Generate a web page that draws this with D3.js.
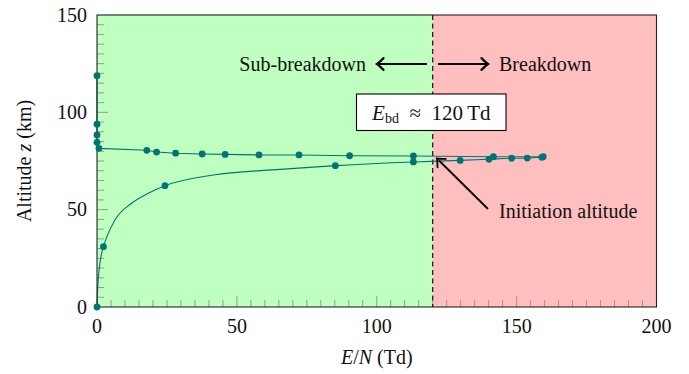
<!DOCTYPE html>
<html>
<head>
<meta charset="utf-8">
<script src="https://cdn.jsdelivr.net/npm/d3@7"></script>
<style>
  html, body { margin: 0; padding: 0; background: #fff; }
  svg text { font-family: "Liberation Serif", "DejaVu Serif", serif; fill: #111; }
</style>
</head>
<body>
<svg id="chart" width="689" height="374"></svg>
<script>
// Reduced field E/N (Td) versus altitude z (km)
const xTicks = [0, 50, 100, 150, 200];
const yTicks = [0, 50, 100, 150];
const breakdownField = 120;

// upper profile: markers joined by straight segments
const upperField = [0, 0, 0, 0, 0.7, 17.8, 21.3, 28.1, 37.6, 45.8, 57.9, 72.2, 90.3, 113.1, 141.7, 159.5];
const upperAlt   = [118.8, 93.9, 88.4, 84.6, 81.5, 80.5, 79.6, 79.0, 78.6, 78.4, 78.1, 78.1, 77.7, 77.6, 77.2, 77.2];

// lower profile: markers
const lowerField = [0, 2.3, 24.3, 85.2, 113.1, 129.8, 140.1, 148.2, 153.8, 159.0];
const lowerAlt   = [0, 31.0, 62.3, 72.6, 74.5, 75.3, 75.9, 76.4, 76.5, 76.9];

// lower profile: smooth curve vertices
const curveField = [0, 0.2, 0.5, 1.2, 2.3, 3.5, 6.4, 12.4, 18.3, 24.3, 41.6, 65.4, 85.2, 113.1, 129.8, 140.1, 148.2, 153.8, 159.0];
const curveAlt   = [0, 8, 15, 24, 31.0, 36.0, 44.7, 53.3, 58.4, 62.3, 67.8, 70.7, 72.6, 74.5, 75.3, 75.9, 76.4, 76.5, 76.9];

const teal = "#007474";
const svg = d3.select("#chart");
const L = 97, R = 656.5, T = 15, B = 307;
const x = d3.scaleLinear().domain([0, 200]).range([L, R]);
const y = d3.scaleLinear().domain([0, 150]).range([B, T]);

// shaded regimes
svg.append("rect").attr("x", x(0)).attr("y", T).attr("width", x(breakdownField) - x(0)).attr("height", B - T).attr("fill", "#bfffbf");
svg.append("rect").attr("x", x(breakdownField)).attr("y", T).attr("width", x(200) - x(breakdownField)).attr("height", B - T).attr("fill", "#ffbfbf");

// inner minor/major ticks
const tickG = svg.append("g").attr("stroke", "#9a9a9a").attr("stroke-width", 1);
d3.range(5, 200, 5).forEach(v => {
  const len = v % 50 === 0 ? 11 : 7;
  tickG.append("line").attr("x1", x(v)).attr("x2", x(v)).attr("y1", B).attr("y2", B - len);
});
d3.range(5, 150, 5).forEach(v => {
  const len = v % 50 === 0 ? 11 : 7;
  tickG.append("line").attr("y1", y(v)).attr("y2", y(v)).attr("x1", L).attr("x2", L + len);
});

// breakdown threshold
svg.append("line").attr("x1", x(breakdownField)).attr("x2", x(breakdownField)).attr("y1", T).attr("y2", B)
  .attr("stroke", "#111").attr("stroke-width", 1.2).attr("stroke-dasharray", "5,3.5");

// curves
svg.append("path").datum(d3.zip(curveField, curveAlt))
  .attr("d", d3.line().x(d => x(d[0])).y(d => y(d[1])).curve(d3.curveMonotoneX))
  .attr("fill", "none").attr("stroke", teal).attr("stroke-width", 1.1);
svg.append("path").datum(d3.zip(upperField, upperAlt))
  .attr("d", d3.line().x(d => x(d[0])).y(d => y(d[1])))
  .attr("fill", "none").attr("stroke", teal).attr("stroke-width", 1.1);

// frame
svg.append("rect").attr("x", L).attr("y", T).attr("width", R - L).attr("height", B - T)
  .attr("fill", "none").attr("stroke", "#222").attr("stroke-width", 1.1);

// markers
const dots = d3.zip(upperField, upperAlt).concat(d3.zip(lowerField, lowerAlt));
svg.append("g").selectAll("circle").data(dots).join("circle")
  .attr("cx", d => x(d[0])).attr("cy", d => y(d[1])).attr("r", 3.4).attr("fill", teal);

// axes labels
const fs = 20;
svg.append("g").selectAll("text").data(xTicks).join("text")
  .attr("x", d => x(d)).attr("y", B + 26).attr("text-anchor", "middle").attr("font-size", fs).text(d => d);
svg.append("g").selectAll("text").data(yTicks).join("text")
  .attr("x", L - 10).attr("y", d => y(d) + 6.5).attr("text-anchor", "end").attr("font-size", fs).text(d => d);

const xl = svg.append("text").attr("x", (L + R) / 2).attr("y", 364).attr("text-anchor", "middle").attr("font-size", fs);
xl.append("tspan").attr("font-style", "italic").text("E");
xl.append("tspan").text("/");
xl.append("tspan").attr("font-style", "italic").text("N");
xl.append("tspan").text(" (Td)");

const yl = svg.append("text").attr("transform", `translate(31,${(T + B) / 2}) rotate(-90)`).attr("text-anchor", "middle").attr("font-size", fs);
yl.append("tspan").text("Altitude ");
yl.append("tspan").attr("font-style", "italic").text("z");
yl.append("tspan").text(" (km)");

// regime annotations
function arrowHead(g, tipX, tipY, angle, size, width) {
  const a = angle;
  const p = (dx, dy) => [tipX + dx * Math.cos(a) - dy * Math.sin(a), tipY + dx * Math.sin(a) + dy * Math.cos(a)];
  const s = size;
  const pts = [p(-s, -s * 0.9), p(-s * 0.3, -s * 0.2), p(0, 0), p(-s * 0.3, s * 0.2), p(-s, s * 0.9)];
  g.append("path")
    .attr("d", `M${pts[0]}Q${pts[1]} ${pts[2]}Q${pts[3]} ${pts[4]}`)
    .attr("fill", "none").attr("stroke", "#000").attr("stroke-width", width).attr("stroke-linecap", "round");
}
const ann = svg.append("g");
const ay = 64;
ann.append("line").attr("x1", 427).attr("x2", 378).attr("y1", ay).attr("y2", ay).attr("stroke", "#000").attr("stroke-width", 2.2);
arrowHead(ann, 377, ay, Math.PI, 6.5, 2.2);
ann.append("line").attr("x1", 438).attr("x2", 487).attr("y1", ay).attr("y2", ay).attr("stroke", "#000").attr("stroke-width", 2.2);
arrowHead(ann, 488, ay, 0, 6.5, 2.2);
ann.append("text").attr("x", 366).attr("y", ay + 6.5).attr("text-anchor", "end").attr("font-size", fs).text("Sub-breakdown");
ann.append("text").attr("x", 499).attr("y", ay + 6.5).attr("text-anchor", "start").attr("font-size", fs).text("Breakdown");

// threshold label box
ann.append("rect").attr("x", 356.5).attr("y", 94).attr("width", 149.5).attr("height", 36.5)
  .attr("fill", "#fff").attr("stroke", "#000").attr("stroke-width", 1.1);
const bt = ann.append("text").attr("x", 431.3).attr("y", 119.5).attr("text-anchor", "middle").attr("font-size", 21);
bt.append("tspan").attr("font-style", "italic").text("E");
bt.append("tspan").attr("font-size", 14).attr("dy", 3).text("bd");
bt.append("tspan").attr("dy", -3).text("\u2002\u2248\u2002120\u2009Td");

// initiation altitude pointer
const tip = [437, 158.5], tail = [488, 209];
ann.append("line").attr("x1", tail[0]).attr("y1", tail[1]).attr("x2", tip[0] + 2).attr("y2", tip[1] + 2)
  .attr("stroke", "#000").attr("stroke-width", 1.8);
arrowHead(ann, tip[0], tip[1], Math.atan2(tip[1] - tail[1], tip[0] - tail[0]), 6.5, 1.8);
ann.append("text").attr("x", 499).attr("y", 218).attr("font-size", fs).text("Initiation altitude");
</script>
</body>
</html>
